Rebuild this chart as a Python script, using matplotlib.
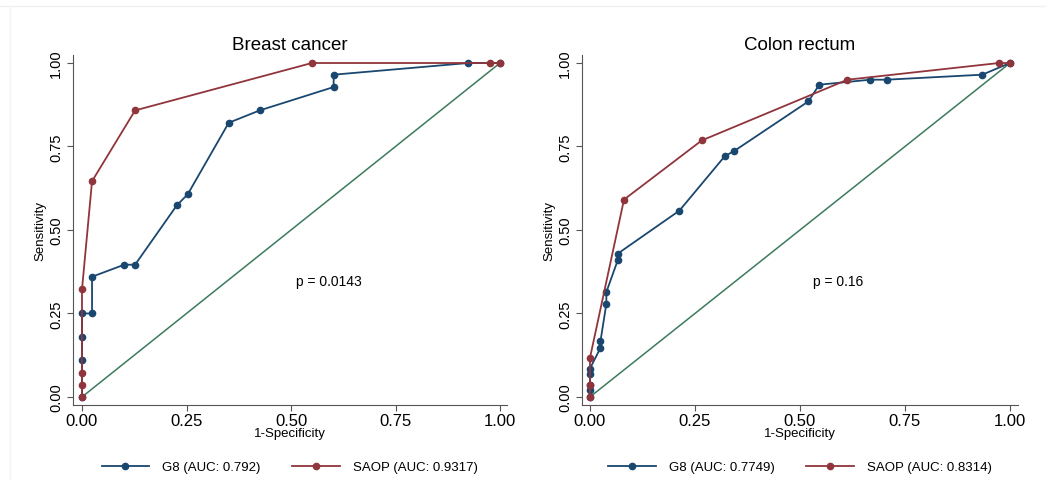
import matplotlib.pyplot as plt
from matplotlib.lines import Line2D

# Breast cancer ROC points (1-specificity, sensitivity)
breast_g8_x = [0.0, 0.0, 0.0, 0.0, 0.024, 0.024, 0.101, 0.127, 0.227, 0.253, 0.351, 0.425, 0.602, 0.602, 0.924, 1.0]
breast_g8_y = [0.0, 0.11, 0.18, 0.25, 0.25, 0.36, 0.396, 0.396, 0.574, 0.607, 0.821, 0.858, 0.928, 0.965, 1.0, 1.0]
breast_saop_x = [0.0, 0.0, 0.0, 0.0, 0.024, 0.127, 0.55, 0.975, 1.0]
breast_saop_y = [0.0, 0.037, 0.073, 0.322, 0.646, 0.858, 1.0, 1.0, 1.0]

# Colon rectum ROC points
colon_g8_x = [0.0, 0.0, 0.0, 0.0, 0.0, 0.025, 0.025, 0.039, 0.039, 0.066, 0.066, 0.213, 0.321, 0.344, 0.52, 0.546, 0.667, 0.706, 0.934, 1.0]
colon_g8_y = [0.0, 0.02, 0.035, 0.07, 0.085, 0.147, 0.167, 0.279, 0.314, 0.409, 0.429, 0.558, 0.721, 0.737, 0.885, 0.935, 0.95, 0.95, 0.965, 1.0]
colon_saop_x = [0.0, 0.0, 0.0, 0.081, 0.266, 0.613, 0.974, 1.0]
colon_saop_y = [0.0, 0.035, 0.117, 0.591, 0.768, 0.95, 1.0, 1.0]

panels = [
    ("Breast cancer", breast_g8_x, breast_g8_y, breast_saop_x, breast_saop_y,
     "p = 0.0143", "G8 (AUC: 0.792)", "SAOP (AUC: 0.9317)"),
    ("Colon rectum", colon_g8_x, colon_g8_y, colon_saop_x, colon_saop_y,
     "p = 0.16", "G8 (AUC: 0.7749)", "SAOP (AUC: 0.8314)"),
]

NAVY = "#1a476f"
MAROON = "#90353b"
GREEN = "#3d7a5c"
ticks = [0, 0.25, 0.5, 0.75, 1.0]
tick_labels = ["0.00", "0.25", "0.50", "0.75", "1.00"]

plt.rcParams['font.family'] = ['Liberation Sans', 'DejaVu Sans']

fig = plt.figure(figsize=(10.46, 4.81), dpi=100)
fig.add_artist(Line2D([0, 1], [1 - 7 / 481, 1 - 7 / 481], color="#f0f0f0", lw=1))
fig.add_artist(Line2D([10 / 1046, 10 / 1046], [0, 1 - 7 / 481], color="#f3f3f3", lw=1))

positions = [[0.0698, 0.156, 0.4149, 0.7276], [0.5564, 0.156, 0.4168, 0.7276]]
xlims = [(-0.0215, 1.0167), (-0.019, 1.019)]
legend_x = [0.277, 0.765]

for pos, xl, lx, (title, gx, gy, sx, sy, ptxt, glab, slab) in zip(positions, xlims, legend_x, panels):
    ax = fig.add_axes(pos)
    ax.plot([0, 1], [0, 1], color=GREEN, lw=1.1)
    hg, = ax.plot(gx, gy, color=NAVY, lw=1.3, marker="o", ms=4.5, label=glab)
    hs, = ax.plot(sx, sy, color=MAROON, lw=1.3, marker="o", ms=4.5, label=slab)
    ax.set_xlim(*xl)
    ax.set_ylim(-0.024, 1.024)
    ax.set_xticks(ticks)
    ax.set_xticklabels(tick_labels)
    ax.set_yticks(ticks)
    ax.set_yticklabels(tick_labels, rotation=90, va="center")
    ax.tick_params(axis="x", labelsize=12, length=4, color="#555555", pad=2)
    ax.tick_params(axis="y", labelsize=10.5, length=4, color="#555555", pad=3)
    for s in ("top", "right"):
        ax.spines[s].set_visible(False)
    for s in ("left", "bottom"):
        ax.spines[s].set_color("#555555")
    ax.set_title(title, fontsize=13.5, pad=4)
    ax.set_xlabel("1-Specificity", fontsize=9.5, labelpad=-1)
    ax.set_ylabel("Sensitivity", fontsize=9.5, labelpad=2)
    ax.text(0.59, 0.347, ptxt, fontsize=10, ha="center", va="center")
    fig.legend(handles=[hg, hs], loc="center", bbox_to_anchor=(lx, 0.027), ncol=2,
               frameon=False, fontsize=9.5, handlelength=3.6, columnspacing=2.4, handletextpad=1.0)

fig.savefig("out.png", dpi=100, facecolor="white")
